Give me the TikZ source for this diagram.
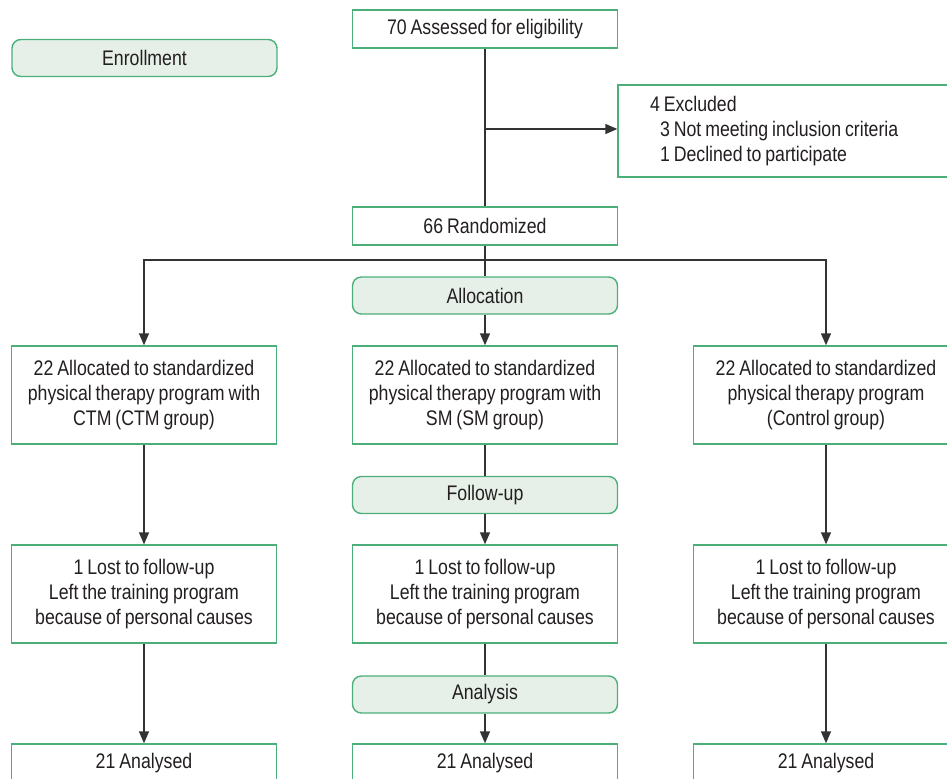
\documentclass[tikz,border=0pt]{standalone}
\usepackage{fontspec}
\setmainfont{Liberation Sans}[FakeStretch=0.84,WordSpace=0.8]
\usepackage{tikz}
\usetikzlibrary{arrows.meta,positioning}
\definecolor{cgreen}{HTML}{4CAF7A}
\definecolor{cfill}{HTML}{E6F0E8}
\definecolor{cline}{HTML}{333333}
\definecolor{ctext}{HTML}{231F20}
\tikzset{
  boxnode/.style={rectangle,draw=cgreen,line width=0.8pt,fill=white,minimum width=5.3cm,
    align=center,inner sep=1pt,text=ctext,font=\fontsize{12}{14.2}\selectfont},
  smallbox/.style={boxnode,minimum height=0.76cm},
  tallbox/.style={boxnode,minimum height=1.96cm},
  phasenode/.style={boxnode,rounded corners=5pt,fill=cfill,minimum height=0.74cm},
  flowline/.style={cline,line width=0.85pt},
  flowedge/.style={flowline,-{Triangle[length=2.4mm,width=2mm]}},
}
\begin{document}
\begin{tikzpicture}
  \useasboundingbox (0,0) rectangle (18.94,-15.56);
  \clip (0,0) rectangle (18.94,-15.56);
  % enrollment
  \node[phasenode] (nEnroll) at (2.89,-1.16) {Enrollment};
  \node[smallbox] (nAssess) at (9.70,-0.58) {70 Assessed for eligibility};
  \node[boxnode,minimum width=6.8cm,minimum height=1.84cm,text width=5.52cm,
    inner xsep=0.64cm,align=left] (nExcl) at (15.76,-2.62)
    {\spaceskip=0pt\xspaceskip=0pt\relax 4 Excluded\\\hspace*{0.2cm}3 Not meeting inclusion criteria\\\hspace*{0.2cm}1 Declined to participate};
  \node[smallbox] (nRand) at (9.70,-4.52) {66 Randomized};
  \coordinate (jExcl) at (9.70,-2.58);
  \draw[flowline] (nAssess) -- (nRand);
  \draw[flowedge] (jExcl) -- (jExcl -| nExcl.west);
  % allocation
  \node[phasenode] (nAlloc) at (9.70,-5.91) {Allocation};
  \node[tallbox] (nGrpL) at (2.88,-7.90) {22 Allocated to standardized\\physical therapy program with\\CTM (CTM group)};
  \node[tallbox] (nGrpM) at (9.70,-7.90) {22 Allocated to standardized\\physical therapy program with\\SM (SM group)};
  \node[tallbox] (nGrpR) at (16.52,-7.90) {22 Allocated to standardized\\physical therapy program\\(Control group)};
  \coordinate (jSplit) at (9.70,-5.20);
  \draw[flowline] (nRand) -- (nAlloc);
  \draw[flowedge] (jSplit) -| (nGrpL);
  \draw[flowedge] (jSplit) -| (nGrpR);
  \draw[flowedge] (nAlloc) -- (nGrpM);
  % follow-up
  \node[phasenode] (nFollow) at (9.70,-9.90) {Follow-up};
  \node[tallbox] (nLostL) at (2.88,-11.88) {1 Lost to follow-up\\Left the training program\\because of personal causes};
  \node[tallbox] (nLostM) at (9.70,-11.88) {1 Lost to follow-up\\Left the training program\\because of personal causes};
  \node[tallbox] (nLostR) at (16.52,-11.88) {1 Lost to follow-up\\Left the training program\\because of personal causes};
  \draw[flowedge] (nGrpL) -- (nLostL);
  \draw[flowline] (nGrpM) -- (nFollow);
  \draw[flowedge] (nFollow) -- (nLostM);
  \draw[flowedge] (nGrpR) -- (nLostR);
  % analysis
  \node[phasenode] (nAnal) at (9.70,-13.89) {Analysis};
  \node[smallbox] (nDoneL) at (2.88,-15.26) {21 Analysed};
  \node[smallbox] (nDoneM) at (9.70,-15.26) {21 Analysed};
  \node[smallbox] (nDoneR) at (16.52,-15.26) {21 Analysed};
  \draw[flowedge] (nLostL) -- (nDoneL);
  \draw[flowline] (nLostM) -- (nAnal);
  \draw[flowedge] (nAnal) -- (nDoneM);
  \draw[flowedge] (nLostR) -- (nDoneR);
\end{tikzpicture}
\end{document}
